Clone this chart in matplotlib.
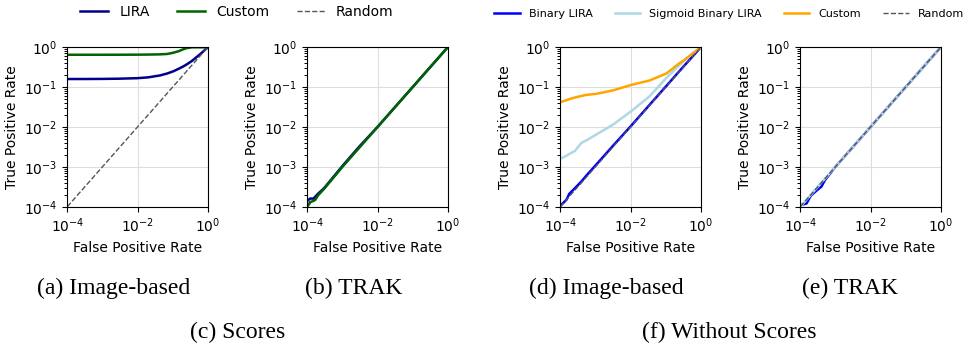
import matplotlib
matplotlib.use("Agg")
import matplotlib.pyplot as plt
from matplotlib.lines import Line2D
from matplotlib import ticker
import numpy as np

# ---------------- data ----------------
# (a) Image-based, with scores
fpr_a = [1e-4, 3e-4, 1e-3, 3e-3, 1e-2, 2e-2, 4.4e-2, 0.07, 0.105, 0.15, 0.2, 0.25, 0.35, 0.45, 0.6, 0.8, 1.0]
tpr_a_lira = [0.16, 0.16, 0.161, 0.163, 0.168, 0.176, 0.197, 0.22, 0.25, 0.29, 0.33, 0.37, 0.45, 0.54, 0.664, 0.83, 1.0]
tpr_a_custom = [0.65, 0.65, 0.65, 0.651, 0.653, 0.657, 0.665, 0.68, 0.73, 0.8, 0.89, 0.95, 1.0, 1.0, 1.0, 1.0, 1.0]

# (b) TRAK, with scores
fpr_b = [1e-4, 1.2e-4, 1.5e-4, 1.7e-4, 2e-4, 3e-4, 5e-4, 1e-3, 3e-3, 1e-2, 1e-1, 1.0]
tpr_b_lira = [1.4e-4, 1.6e-4, 1.6e-4, 1.8e-4, 2.1e-4, 2.9e-4, 5.0e-4, 1.05e-3, 3.2e-3, 1.0e-2, 0.1, 1.0]
tpr_b_custom = [1.0e-4, 1.3e-4, 1.4e-4, 1.5e-4, 1.9e-4, 2.8e-4, 4.8e-4, 1.0e-3, 3.0e-3, 1.0e-2, 0.1, 1.0]

# (d) Image-based, without scores
fpr_d = [1e-4, 1.5e-4, 1.8e-4, 2.6e-4, 4e-4, 5.5e-4, 1.07e-3, 3.2e-3, 1.05e-2, 3.5e-2, 0.105, 0.25, 0.39, 0.6, 1.0]
tpr_d_binary = [1.05e-4, 1.5e-4, 2.1e-4, 2.9e-4, 4.3e-4, 6.0e-4, 1.15e-3, 3.4e-3, 1.08e-2, 3.6e-2, 0.107, 0.255, 0.395, 0.6, 1.0]
tpr_d_sigmoid = [1.6e-3, 1.9e-3, 2.1e-3, 2.5e-3, 4.0e-3, 4.6e-3, 6.5e-3, 1.15e-2, 2.5e-2, 5.9e-2, 0.17, 0.36, 0.53, 0.72, 1.0]
tpr_d_custom = [0.042, 0.047, 0.05, 0.055, 0.06, 0.064, 0.068, 0.083, 0.114, 0.147, 0.22, 0.4, 0.52, 0.7, 1.0]

# (e) TRAK, without scores
fpr_e = [1e-4, 1.5e-4, 2e-4, 3e-4, 4e-4, 5e-4, 1e-3, 1e-2, 1e-1, 1.0]
tpr_e_binary = [1.1e-4, 1.2e-4, 1.9e-4, 2.6e-4, 3.2e-4, 4.6e-4, 1.0e-3, 1.0e-2, 0.1, 1.0]
tpr_e_sigmoid = [1.0e-4, 1.5e-4, 2.0e-4, 3.0e-4, 4.1e-4, 5.0e-4, 1.0e-3, 1.0e-2, 0.1, 1.0]

random_line = [1e-4, 1.0]

x_ticks = [1e-4, 1e-2, 1e0]
y_ticks = [1e-4, 1e-3, 1e-2, 1e-1, 1e0]

captions = ["(a) Image-based", "(b) TRAK", "(d) Image-based", "(e) TRAK"]
group_captions = ["(c) Scores", "(f) Without Scores"]

# ---------------- figure ----------------
W, H = 967, 343
fig = plt.figure(figsize=(W / 100, H / 100), dpi=100)
plt.rcParams['font.family'] = ['DejaVu Sans']


def px_axes(x0, x1, y0, y1):
    return fig.add_axes([x0 / W, 1 - y1 / H, (x1 - x0) / W, (y1 - y0) / H])


lefts = [67.3, 307.3, 560.3, 800.3]
axes = [px_axes(l, l + 140.4, 47.3, 206.7) for l in lefts]

c_lira = '#00008B'
c_green = '#006400'
c_blue = '#0000FF'
c_light = '#ADD8E6'
c_orange = '#FFA500'
c_rand = '#555555'

lw = 1.8

ax = axes[0]
ax.plot(fpr_a, tpr_a_lira, color=c_lira, lw=lw)
ax.plot(fpr_a, tpr_a_custom, color=c_green, lw=lw)
ax.plot(random_line, random_line, color=c_rand, lw=1, ls='--')

ax = axes[1]
ax.plot(random_line, random_line, color=c_rand, lw=1, ls='--')
ax.plot(fpr_b, tpr_b_lira, color=c_lira, lw=lw)
ax.plot(fpr_b, tpr_b_custom, color=c_green, lw=lw)

ax = axes[2]
ax.plot(fpr_d, tpr_d_binary, color=c_blue, lw=lw)
ax.plot(fpr_d, tpr_d_sigmoid, color=c_light, lw=lw)
ax.plot(fpr_d, tpr_d_custom, color=c_orange, lw=lw)
ax.plot(random_line, random_line, color=c_rand, lw=1, ls='--')

ax = axes[3]
ax.plot(fpr_e, tpr_e_binary, color=c_blue, lw=lw)
ax.plot(fpr_e, tpr_e_sigmoid, color=c_light, lw=lw)
ax.plot(random_line, random_line, color=c_rand, lw=1, ls='--')

minor_y = [k * 10.0 ** e for e in range(-4, 0) for k in range(2, 10)]

for ax in axes:
    ax.set_xscale('log')
    ax.set_yscale('log')
    ax.set_xlim(1e-4, 1)
    ax.set_ylim(1e-4, 1)
    ax.set_xticks(x_ticks)
    ax.set_yticks(y_ticks)
    ax.xaxis.set_minor_locator(ticker.NullLocator())
    ax.yaxis.set_minor_locator(ticker.FixedLocator(minor_y))
    ax.yaxis.set_minor_formatter(ticker.NullFormatter())
    ax.tick_params(which='major', labelsize=10)
    ax.tick_params(which='minor', length=2.5, width=0.7)
    ax.grid(True, which='major', color='#dddddd', lw=0.8)
    ax.set_axisbelow(True)
    ax.set_xlabel('False Positive Rate', fontsize=10)
    ax.set_ylabel('True Positive Rate', fontsize=10)

# legends
h_left = [Line2D([], [], color=c_lira, lw=lw), Line2D([], [], color=c_green, lw=lw),
          Line2D([], [], color=c_rand, lw=1, ls='--')]
fig.legend(h_left, ['LIRA', 'Custom', 'Random'], loc='center', bbox_to_anchor=(237 / W, 1 - 12 / H),
           ncol=3, frameon=False, fontsize=10, handlelength=2.0, columnspacing=2.0,
           handletextpad=0.8, borderaxespad=0, borderpad=0)
h_right = [Line2D([], [], color=c_blue, lw=lw), Line2D([], [], color=c_light, lw=lw),
           Line2D([], [], color=c_orange, lw=lw), Line2D([], [], color=c_rand, lw=1, ls='--')]
fig.legend(h_right, ['Binary LIRA', 'Sigmoid Binary LIRA', 'Custom', 'Random'], loc='center',
           bbox_to_anchor=(729 / W, 1 - 14 / H), ncol=4, frameon=False, fontsize=8,
           handlelength=2.3, columnspacing=2.0, handletextpad=0.8, borderaxespad=0, borderpad=0)

serif = ['Liberation Serif', 'DejaVu Serif']
cap_x = [114, 354, 606, 850]
for cx, t in zip(cap_x, captions):
    fig.text(cx / W, 1 - 288 / H, t, ha='center', va='center', fontsize=17, family=serif)
for cx, t in zip([238, 729], group_captions):
    fig.text(cx / W, 1 - 332 / H, t, ha='center', va='center', fontsize=17, family=serif)

fig.savefig('out.png', dpi=100)
